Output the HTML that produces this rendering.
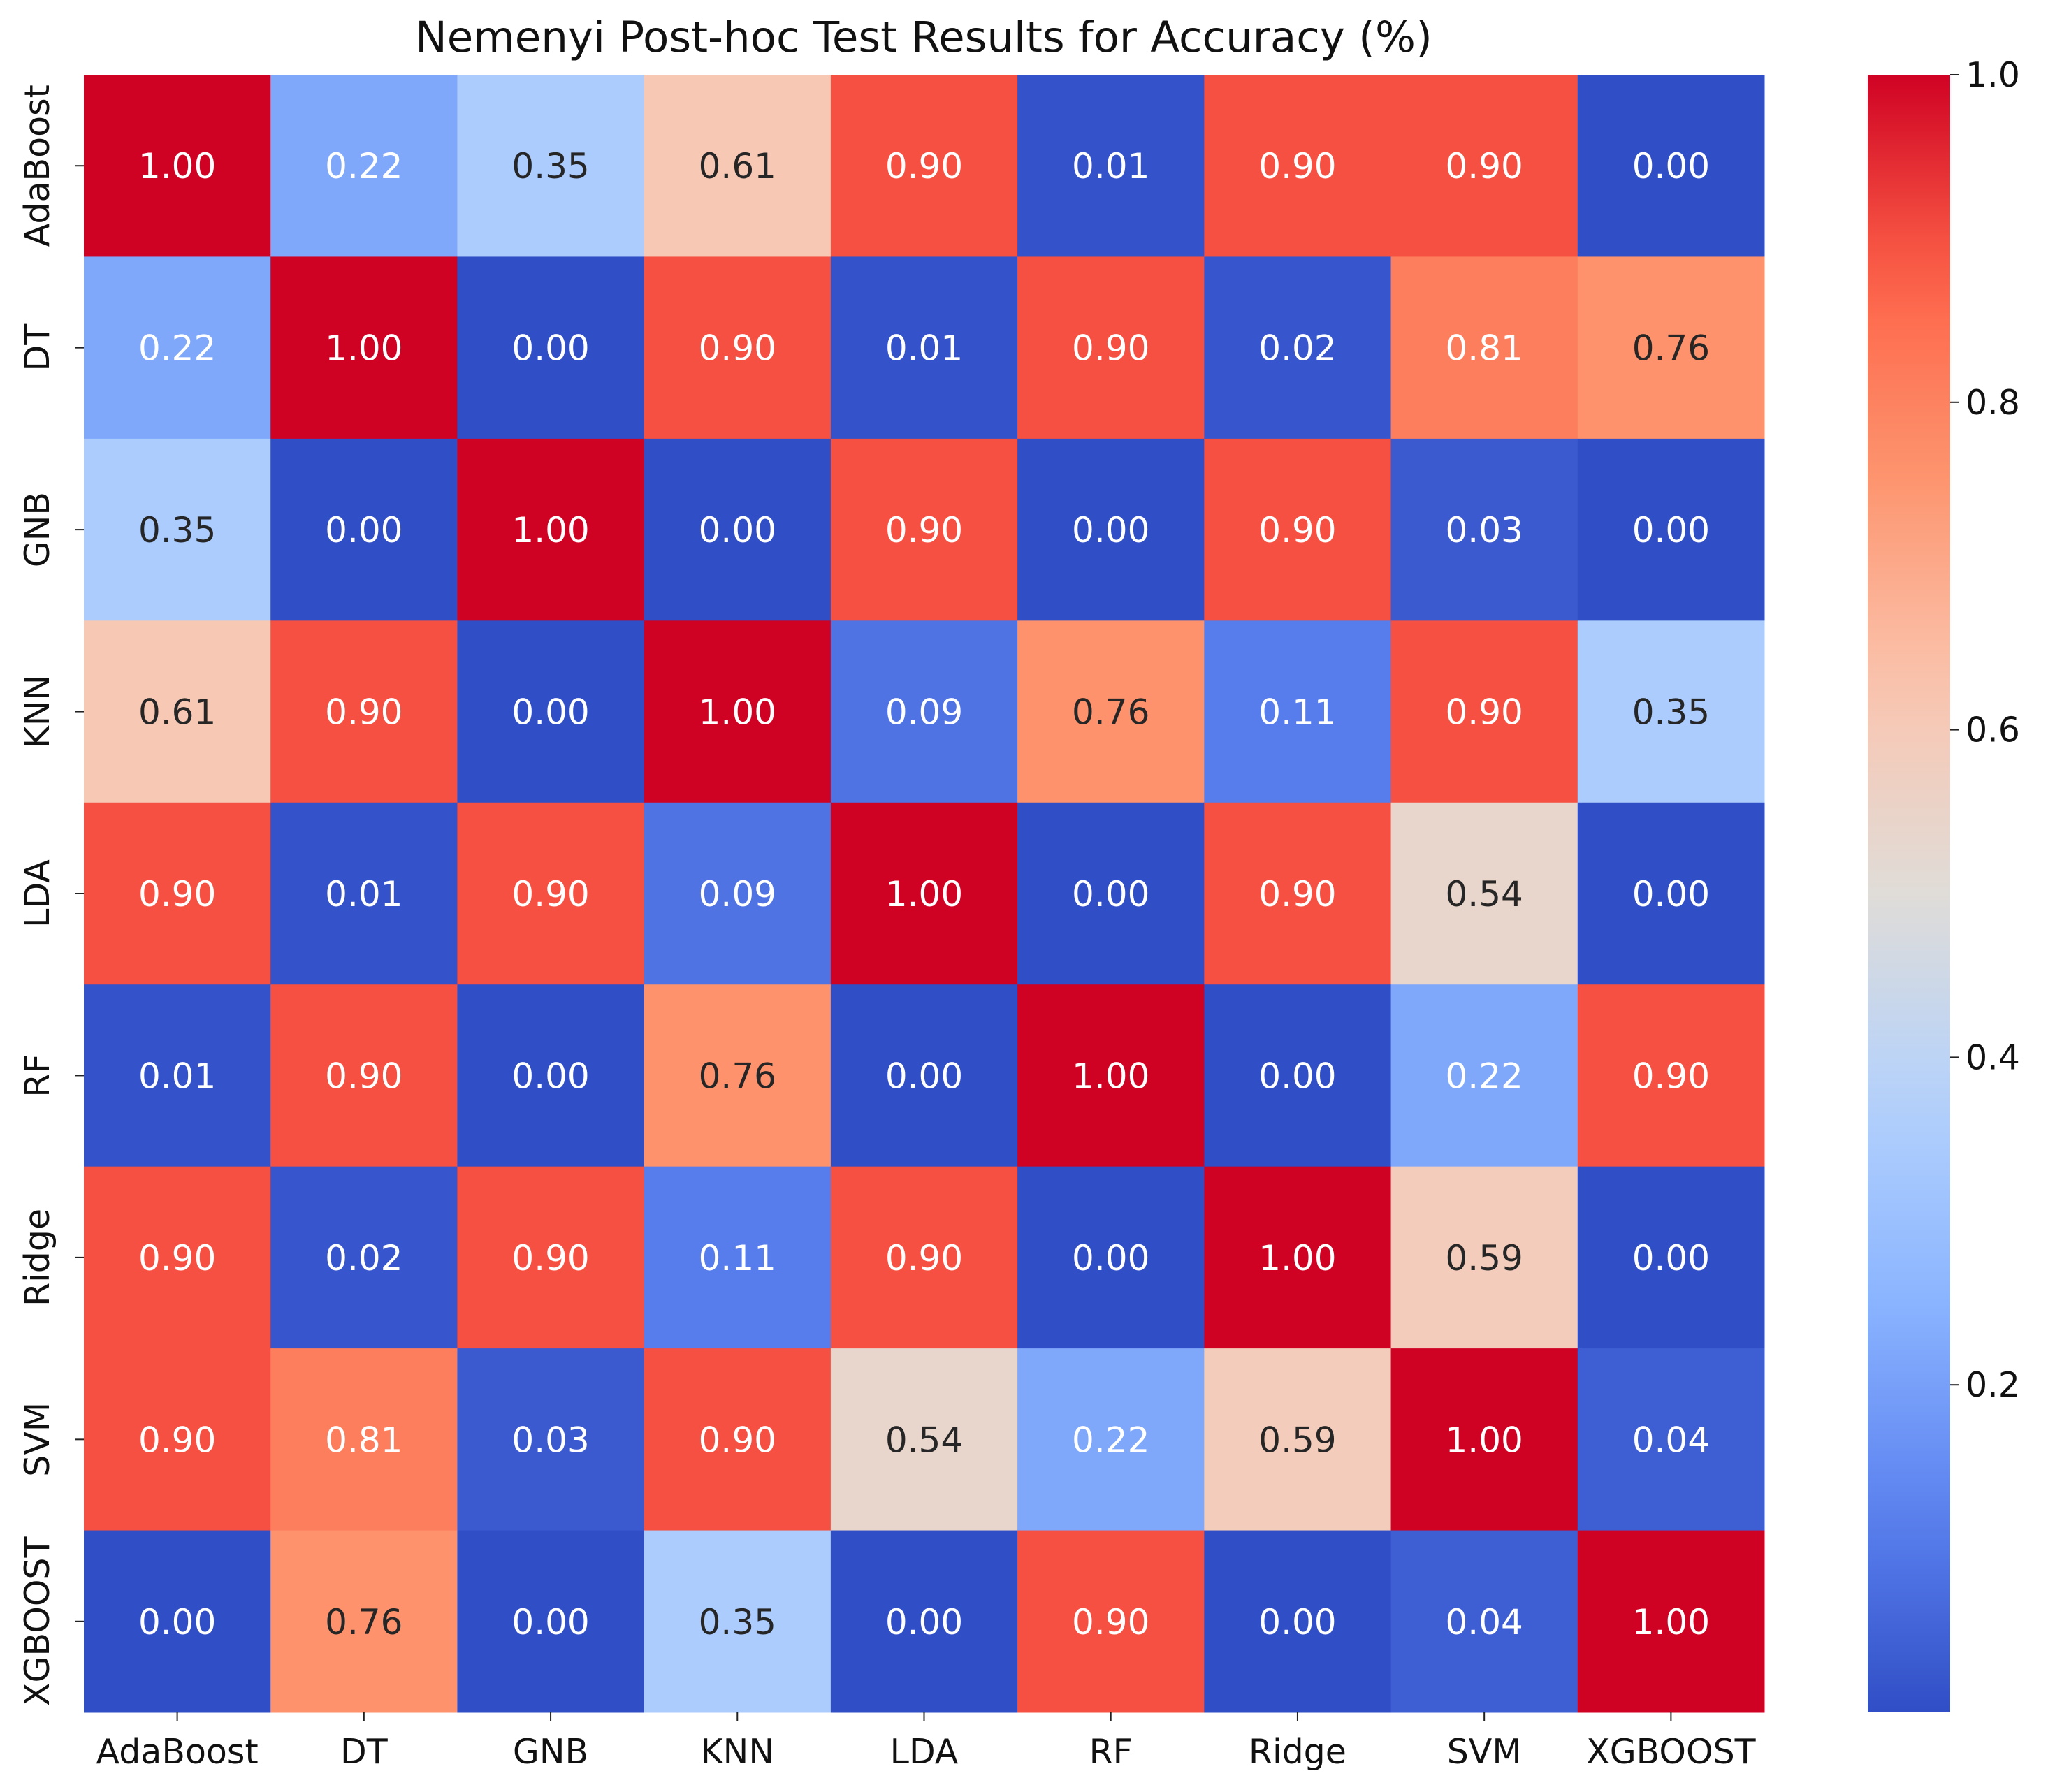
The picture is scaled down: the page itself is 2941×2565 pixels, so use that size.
<!DOCTYPE html>
<html><head><meta charset="utf-8"><style>
html,body{margin:0;padding:0;background:#fff;}
svg text{font-family:"DejaVu Sans","Liberation Sans",sans-serif;}
</style></head><body>
<svg id="chart" width="2941" height="2560" viewBox="0 0 2941 2560" xmlns="http://www.w3.org/2000/svg">
<defs>
<linearGradient id="cbgrad" x1="0" y1="1" x2="0" y2="0"></linearGradient>
</defs>
<text x="1322" y="74" font-size="61" text-anchor="middle" fill="#111">Nemenyi Post-hoc Test Results for Accuracy (%)</text>
<g id="cells"></g>
<g id="axes"></g>
<g id="cbar"></g>
</svg>
<script>
const labels = ["AdaBoost","DT","GNB","KNN","LDA","RF","Ridge","SVM","XGBOOST"];
const row0 = [1.00,0.22,0.35,0.61,0.90,0.01,0.90,0.90,0.00];
const row1 = [0.22,1.00,0.00,0.90,0.01,0.90,0.02,0.81,0.76];
const row2 = [0.35,0.00,1.00,0.00,0.90,0.00,0.90,0.03,0.00];
const row3 = [0.61,0.90,0.00,1.00,0.09,0.76,0.11,0.90,0.35];
const row4 = [0.90,0.01,0.90,0.09,1.00,0.00,0.90,0.54,0.00];
const row5 = [0.01,0.90,0.00,0.76,0.00,1.00,0.00,0.22,0.90];
const row6 = [0.90,0.02,0.90,0.11,0.90,0.00,1.00,0.59,0.00];
const row7 = [0.90,0.81,0.03,0.90,0.54,0.22,0.59,1.00,0.04];
const row8 = [0.00,0.76,0.00,0.35,0.00,0.90,0.00,0.04,1.00];
const rows = [row0,row1,row2,row3,row4,row5,row6,row7,row8];
const cbTicks = [0.2,0.4,0.6,0.8,1.0];
const vmin = 0, vmax = 1;

const NS="http://www.w3.org/2000/svg";
const L=120,R=2525,T=107,B=2451;
const n=labels.length, cw=(R-L)/n, ch=(B-T)/n;
const xs=i=>L+i*cw, ys=j=>T+j*ch;
const stops=[[0,[48,78,198]],[0.125,[92,130,240]],[0.25,[138,180,255]],[0.375,[180,210,252]],[0.5,[224,220,216]],[0.625,[250,198,176]],[0.75,[253,150,112]],[0.875,[254,100,72]],[1,[208,2,36]]];
function cmap(v){v=(v-vmin)/(vmax-vmin);v=Math.max(0,Math.min(1,v));
 for(let k=1;k<stops.length;k++){if(v<=stops[k][0]){const a=stops[k-1],b=stops[k];const t=(v-a[0])/(b[0]-a[0]);
 const c=a[1].map((x,i)=>Math.round(x+(b[1][i]-x)*t));return `rgb(${c.join(',')})`;}}return 'rgb(208,2,36)';}
function mk(tag,attrs,parent){const e=document.createElementNS(NS,tag);for(const k in attrs)e.setAttribute(k,attrs[k]);parent.appendChild(e);return e;}
const cells=document.getElementById('cells');
rows.forEach((r,j)=>r.forEach((v,i)=>{
 const rect=mk('rect',{x:xs(i),y:ys(j),width:cw+0.5,height:ch+0.5,fill:cmap(v)},cells);
 
 
 const dark=v>0.3&&v<0.8;
 const t=mk('text',{x:xs(i)+cw/2,y:ys(j)+ch/2+18,'font-size':50,'text-anchor':'middle',fill:dark?'#262626':'#ffffff'},cells);
 t.textContent=v.toFixed(2);
 
 
}));
const axes=document.getElementById('axes');
labels.forEach((lab,i)=>{
 mk('line',{x1:xs(i)+cw/2,x2:xs(i)+cw/2,y1:B,y2:B+12,stroke:'#222','stroke-width':2},axes);
 const t=mk('text',{x:xs(i)+cw/2,y:B+73,'font-size':49,'text-anchor':'middle',fill:'#111'},axes);
 t.textContent=lab;
 
 
 const cy=ys(i)+ch/2;
 mk('line',{x1:L-12,x2:L,y1:cy,y2:cy,stroke:'#222','stroke-width':2},axes);
 const ty=mk('text',{x:70,y:cy,'font-size':49,'text-anchor':'middle',fill:'#111',transform:`rotate(-90 70 ${cy})`},axes);
 ty.textContent=lab;
 
 
});
const g=document.getElementById('cbgrad');
for(let k=0;k<=20;k++){mk('stop',{offset:k/20,'stop-color':cmap(vmin+(vmax-vmin)*k/20)},g);}
const cb=document.getElementById('cbar');
const CL=2673,CR=2791,CT=107,CB=2451;
const cbr=mk('rect',{x:CL,y:CT,width:CR-CL,height:CB-CT,fill:'url(#cbgrad)'},cb);


const cy=v=>CB-(v-vmin)/(vmax-vmin)*(CB-CT);
cbTicks.forEach(v=>{
 mk('line',{x1:CR,x2:CR+12,y1:cy(v),y2:cy(v),stroke:'#222','stroke-width':2},cb);
 const t=mk('text',{x:CR+22,y:cy(v)+17,'font-size':49,fill:'#111'},cb);
 t.textContent=v.toFixed(1);
 
 
});
</script>
</body></html>
